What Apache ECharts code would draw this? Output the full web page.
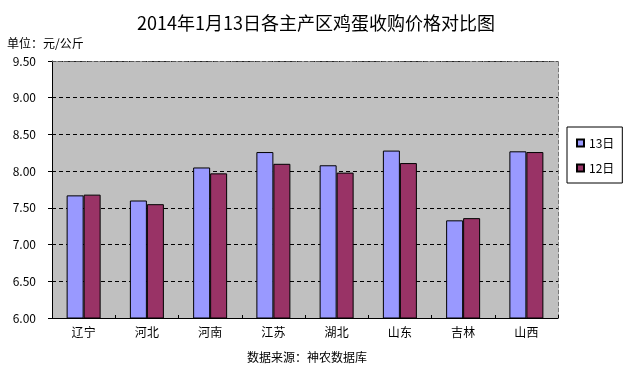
<!DOCTYPE html>
<html><head><meta charset="utf-8">
<script src="https://cdn.jsdelivr.net/npm/echarts@6/dist/echarts.min.js"></script>
<style>html,body{margin:0;padding:0;background:#fff}#c{width:630px;height:365px}</style>
</head><body><div id="c"></div>
<script>
var categories = ['辽宁','河北','河南','江苏','湖北','山东','吉林','山西'];
var s13 = [7.67, 7.60, 8.05, 8.26, 8.08, 8.28, 7.33, 8.27];
var s12 = [7.68, 7.55, 7.97, 8.10, 7.98, 8.11, 7.36, 8.26];
var seriesNames = ['13日','12日'];
var titleText = '2014年1月13日各主产区鸡蛋收购价格对比图';
var unitText = '单位：元/公斤';
var sourceText = '数据来源：神农数据库';
var yMin = 6, yMax = 9.5, yStep = 0.5;

var font = '"Noto Sans CJK SC", sans-serif';
var chart = echarts.init(document.getElementById('c'));
chart.setOption({
  animation: false,
  backgroundColor: '#fff',
  textStyle: {fontFamily: font},
  title: [
    {text: titleText, left: 311, textAlign: 'center', top: 9,
     textStyle: {fontSize: 18, fontWeight: 'normal', color: '#000', fontFamily: font}},
    {text: unitText, left: 2, top: 32,
     textStyle: {fontSize: 12, fontWeight: 'normal', color: '#000', fontFamily: font}},
    {text: sourceText, left: 302, textAlign: 'center', top: 346,
     textStyle: {fontSize: 12, fontWeight: 'normal', color: '#000', fontFamily: font}}
  ],
  legend: {
    orient: 'vertical', left: 567, top: 127, width: 54,
    data: seriesNames,
    icon: 'rect', itemWidth: 7, itemHeight: 7, itemGap: 13,
    padding: [10, 8, 9, 9],
    borderColor: '#000', borderWidth: 1, backgroundColor: '#fff',
    textStyle: {fontSize: 12, color: '#000', fontFamily: font}
  },
  grid: {left: 52, right: 72, top: 61, bottom: 47, show: true, backgroundColor: '#c0c0c0', borderWidth: 0},
  xAxis: [{
    type: 'category', data: categories,
    axisLine: {lineStyle: {color: '#000', width: 1}},
    axisTick: {show: true, inside: true, length: 3, lineStyle: {color: '#000'}},
    axisLabel: {fontSize: 12, color: '#000', margin: 8}
  }, {
    type: 'category', data: categories, position: 'top',
    axisLine: {lineStyle: {color: '#555', type: 'dashed', width: 1}},
    axisTick: {show: false}, axisLabel: {show: false}
  }],
  yAxis: [{
    type: 'value', min: yMin, max: yMax, interval: yStep,
    axisLine: {show: true, lineStyle: {color: '#000', width: 1}},
    axisTick: {show: true, length: 4, lineStyle: {color: '#000'}},
    axisLabel: {fontSize: 12, color: '#000', margin: 16, formatter: function(v){return v.toFixed(2);}},
    splitLine: {show: true, lineStyle: {color: '#000', type: [4, 3], width: 1}}
  }, {
    type: 'value', min: yMin, max: yMax, interval: yStep, position: 'right',
    axisLine: {show: true, lineStyle: {color: '#777', type: 'dashed', width: 1}},
    axisTick: {show: false}, axisLabel: {show: false}, splitLine: {show: false}
  }],
  series: [
    {name: seriesNames[0], type: 'bar', data: s13, barWidth: 17, barGap: '0%',
     itemStyle: {color: '#9999ff', borderColor: '#000', borderWidth: 1}},
    {name: seriesNames[1], type: 'bar', data: s12, barWidth: 17, barGap: '0%',
     itemStyle: {color: '#993366', borderColor: '#000', borderWidth: 1}}
  ]
});
</script></body></html>
